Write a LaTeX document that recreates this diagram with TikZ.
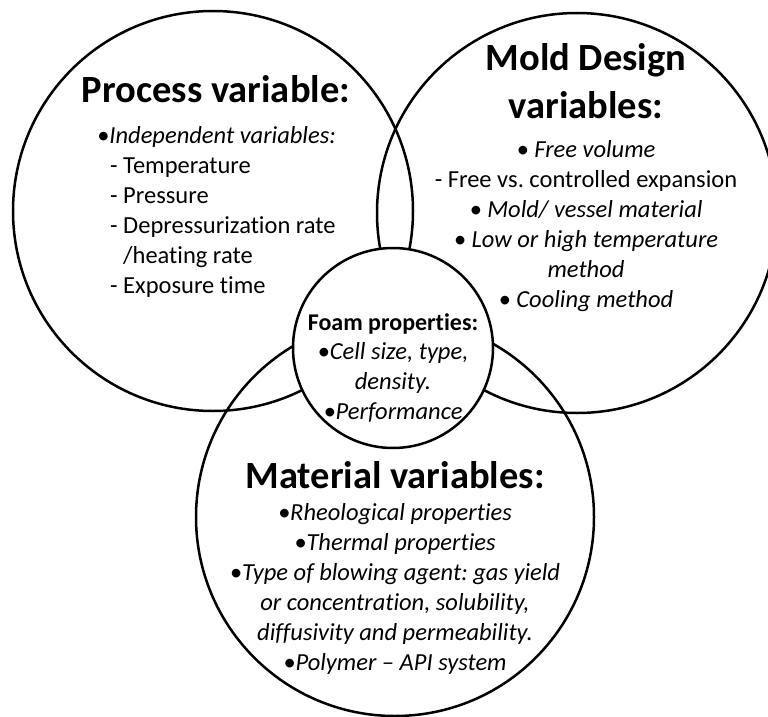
\documentclass[tikz,border=0pt]{standalone}
\usepackage{fontspec}
\setmainfont{Carlito}[Ligatures=NoCommon]
\frenchspacing
\usetikzlibrary{positioning}
\tikzset{%
  bigc/.style = {circle,draw,line width=2.5pt,minimum size=400pt,
        inner sep=0pt},
  smallc/.style = {circle,draw,fill=white,line width=2.5pt,
        minimum size=200pt,inner sep=0pt},
  head/.style = {font=\fontsize{38.5}{48}\selectfont\bfseries,
        align=center,anchor=base,inner sep=0pt},
  subhead/.style = {font=\fontsize{24}{30}\selectfont\bfseries,
        anchor=base,inner sep=0pt},
  body/.style = {font=\fontsize{24.5}{30}\selectfont,align=center,
        anchor=base,inner sep=0pt}
}

\begin{document}
\begin{tikzpicture}[x=1pt,y=-1pt]
  \useasboundingbox (0,0) rectangle (768,717);
  % the circles
  \node[bigc] (process) at (213,211) {};
  \node[bigc] (mold) at (577,213) {};
  \node[bigc,minimum size=398pt] (material) at (395,517) {};
  \node[smallc] (foam) at (393,348) {};
  % process
  \node[head] (processhead) at (216,102) {Process variable:};
  \node[body,align=left,anchor=base west] (processlist) at (97,293)
    {\textit{•Independent variables:}\\
     \hspace*{13pt}- Temperature\\
     \hspace*{13pt}- Pressure\\
     \hspace*{13pt}- Depressurization rate\\
     \hspace*{26pt}/heating rate\\
     \hspace*{13pt}- Exposure time};
  % mold design
  \node[head] (moldhead) at (586,118) {Mold Design\\variables:};
  \node[body] (moldlist) at (586,307)
    {\textit{• Free volume}\\
     - Free vs. controlled expansion\\
     \textit{• Mold/ vessel material}\\
     \textit{• Low or high temperature}\\
     \textit{method}\\
     \textit{• Cooling method}};
  % foam
  \node[subhead] (foamhead) at (393,330) {Foam properties:};
  \node[body,font=\fontsize{24.5}{30}\selectfont\itshape] (foamlist) at (393,419)
    {•Cell size, type,\\density.\\•Performance};
  % material
  \node[head] (materialhead) at (395,488) {Material variables:};
  \node[body,font=\fontsize{24.5}{30}\selectfont\itshape] (materiallist) at (395,670)
    {•Rheological properties\\
     •Thermal properties\\
     •Type of blowing agent: gas yield\\
     or concentration, solubility,\\
     diffusivity and permeability.\\
     •Polymer – API system};
\end{tikzpicture}
\end{document}
